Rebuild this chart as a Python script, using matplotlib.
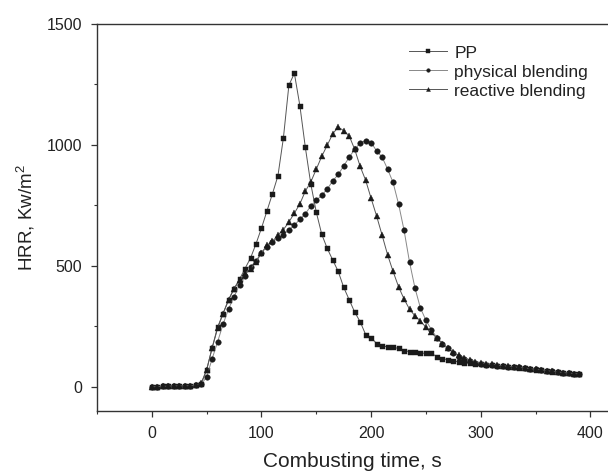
import matplotlib
matplotlib.use("Agg")
import matplotlib.pyplot as plt
from matplotlib.ticker import MultipleLocator

plt.rcParams['font.family'] = ['Liberation Sans', 'DejaVu Sans']
plt.rcParams['mathtext.fontset'] = 'custom'
plt.rcParams['mathtext.rm'] = 'Liberation Sans'
plt.rcParams['mathtext.it'] = 'Liberation Sans'

# time axis, one reading every 5 s
time_s = list(range(0, 395, 5))

hrr_pp = [0, 1, 2, 3, 4, 4, 4, 5, 7, 12,
          70, 161, 247, 303, 361, 406, 445, 489, 532, 591,
          656, 727, 798, 872, 1029, 1247, 1296, 1163, 990, 838,
          722, 630, 572, 524, 477, 411, 360, 309, 269, 216,
          203, 179, 168, 166, 163, 159, 149, 146, 143, 139,
          139, 138, 125, 116, 112, 108, 102, 99, 97, 95,
          93, 91, 89, 87, 85, 83, 81, 79, 76, 73,
          71, 69, 66, 63, 60, 58, 56, 55, 53]

hrr_physical = [0, 1, 2, 3, 3, 4, 4, 5, 6, 10,
                41, 116, 186, 259, 322, 372, 422, 457, 496, 521,
                555, 578, 600, 614, 628, 650, 668, 693, 715, 748,
                771, 792, 818, 851, 878, 913, 949, 982, 1008, 1018,
                1010, 975, 950, 900, 845, 756, 648, 516, 408, 325,
                275, 236, 203, 179, 159, 141, 125, 114, 107, 100,
                95, 92, 90, 88, 86, 84, 82, 80, 77, 74,
                72, 70, 67, 64, 61, 59, 57, 55, 53]

hrr_reactive = [0, 1, 2, 3, 4, 4, 4, 5, 6, 15,
                70, 160, 242, 303, 358, 406, 440, 470, 488, 516,
                553, 586, 601, 627, 650, 681, 718, 756, 809, 847,
                900, 953, 999, 1046, 1074, 1059, 1037, 982, 911, 854,
                779, 706, 627, 546, 477, 414, 363, 321, 293, 272,
                246, 225, 200, 179, 162, 142, 130, 120, 112, 104,
                100, 96, 93, 90, 87, 85, 83, 80, 78, 75,
                72, 70, 67, 64, 61, 59, 57, 55, 53]

fig = plt.figure(figsize=(6.08, 4.75), dpi=100)
ax = fig.add_axes([0.1595, 0.1347, 0.8405, 0.8148])

ax.plot(time_s, hrr_pp, color='#555555', linewidth=0.7,
        marker='s', markersize=3.6, markerfacecolor='#1a1a1a',
        markeredgecolor='#1a1a1a', markeredgewidth=0.3, label='PP')
ax.plot(time_s, hrr_physical, color='#888888', linewidth=0.7,
        marker='o', markersize=4.0, markerfacecolor='#1a1a1a',
        markeredgecolor='#1a1a1a', markeredgewidth=0.3, label='physical blending')
ax.plot(time_s, hrr_reactive, color='#555555', linewidth=0.7,
        marker='^', markersize=4.4, markerfacecolor='#1a1a1a',
        markeredgecolor='#1a1a1a', markeredgewidth=0.3, label='reactive blending')

ax.set_xlim(-50, 416)
ax.set_ylim(-100, 1500)
ax.xaxis.set_major_locator(MultipleLocator(100))
ax.xaxis.set_minor_locator(MultipleLocator(50))
ax.yaxis.set_major_locator(MultipleLocator(500))
ax.yaxis.set_minor_locator(MultipleLocator(250))

for side in ['left', 'bottom', 'top']:
    ax.spines[side].set_linewidth(1.0)
    ax.spines[side].set_color('#333333')
ax.spines['right'].set_visible(False)

ax.tick_params(which='major', direction='out', length=4, width=0.9,
               color='#333333', labelsize=11.5, pad=6.5, labelcolor='#222222')
ax.tick_params(which='minor', direction='out', length=2.5, width=0.8, color='#333333')
ax.tick_params(top=False, right=False, which='both')

ax.set_xlabel('Combusting time, s', fontsize=15, color='#222222', labelpad=8)
ax.set_ylabel('HRR, Kw/m$^2$', fontsize=13.5, color='#222222', labelpad=7)

leg = ax.legend(loc='upper left', bbox_to_anchor=(0.58, 0.985), frameon=False,
                fontsize=12.5, handlelength=2.2, handletextpad=0.4,
                labelspacing=0.22, markerscale=0.65)
for t in leg.get_texts():
    t.set_color('#222222')

fig.savefig('out.png', dpi=100)
